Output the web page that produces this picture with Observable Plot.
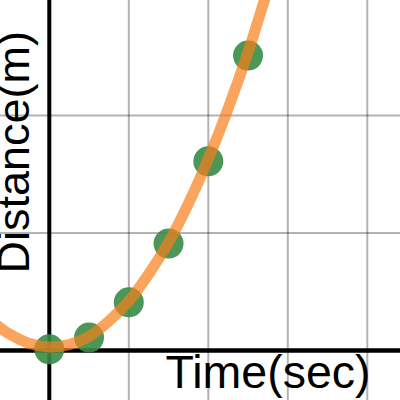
<!DOCTYPE html>
<html>
<head>
<meta charset="utf-8">
<script src="https://cdn.jsdelivr.net/npm/d3@7"></script>
<script src="https://cdn.jsdelivr.net/npm/@observablehq/plot@0.6"></script>
<style>
  html, body { margin: 0; padding: 0; background: #fff; }
  #chart svg { display: block; }
</style>
</head>
<body>
<div id="chart"></div>
<script>
// Data points (time in grid units, distance in grid units)
const timeSec = [0, 0.5, 1, 1.5, 2, 2.5];
const distance = [0.01, 0.11, 0.41, 0.91, 1.61, 2.51];

// Fitted curve samples
const curveTime = [-0.65, -0.5, -0.25, 0, 0.25, 0.5, 0.75, 1, 1.25, 1.5, 1.75, 2, 2.25, 2.5, 2.75];
const curveDist = [0.21, 0.14, 0.06, 0.03, 0.05, 0.12, 0.25, 0.42, 0.65, 0.92, 1.25, 1.63, 2.06, 2.54, 3.08];

// Grid lines
const xGrid = [1, 2, 3, 4];
const yGrid = [1, 2];

const xLabel = "Time(sec)";
const yLabel = "Distance(m)";

const points = timeSec.map((t, i) => ({t, d: distance[i]}));
const curve = curveTime.map((t, i) => ({t, d: curveDist[i]}));

const font = "'Liberation Sans', Arial, Helvetica, sans-serif";

const chart = Plot.plot({
  width: 400,
  height: 400,
  margin: 0,
  x: {domain: [-0.6138, 4.4176], axis: null},
  y: {domain: [-0.4255, 2.9787], axis: null},
  style: {background: "#fff", fontFamily: font},
  marks: [
    Plot.ruleX(xGrid, {stroke: "#000", strokeOpacity: 0.3, strokeWidth: 2}),
    Plot.ruleY(yGrid, {stroke: "#000", strokeOpacity: 0.3, strokeWidth: 2}),
    Plot.ruleX([0], {stroke: "#000", strokeWidth: 4}),
    Plot.ruleY([0], {stroke: "#000", strokeWidth: 4.5}),
    Plot.dot(points, {x: "t", y: "d", r: 15, fill: "#388c46", fillOpacity: 0.9, stroke: null}),
    Plot.line(curve, {x: "t", y: "d", curve: "catmull-rom", stroke: "#fa7e19", strokeOpacity: 0.7, strokeWidth: 11, clip: true}),
    Plot.text([xLabel], {
      text: d => d, frameAnchor: "bottom-right", textAnchor: "end", lineAnchor: "bottom",
      dx: -30, dy: -13, fontSize: 46.5, fill: "#000", fontFamily: font
    }),
    Plot.text([yLabel], {
      text: d => d, frameAnchor: "bottom-left", textAnchor: "start", lineAnchor: "bottom",
      rotate: -90, dx: 28, dy: -127, fontSize: 45, fill: "#000", fontFamily: font
    })
  ]
});
document.getElementById("chart").appendChild(chart);
</script>
</body>
</html>
